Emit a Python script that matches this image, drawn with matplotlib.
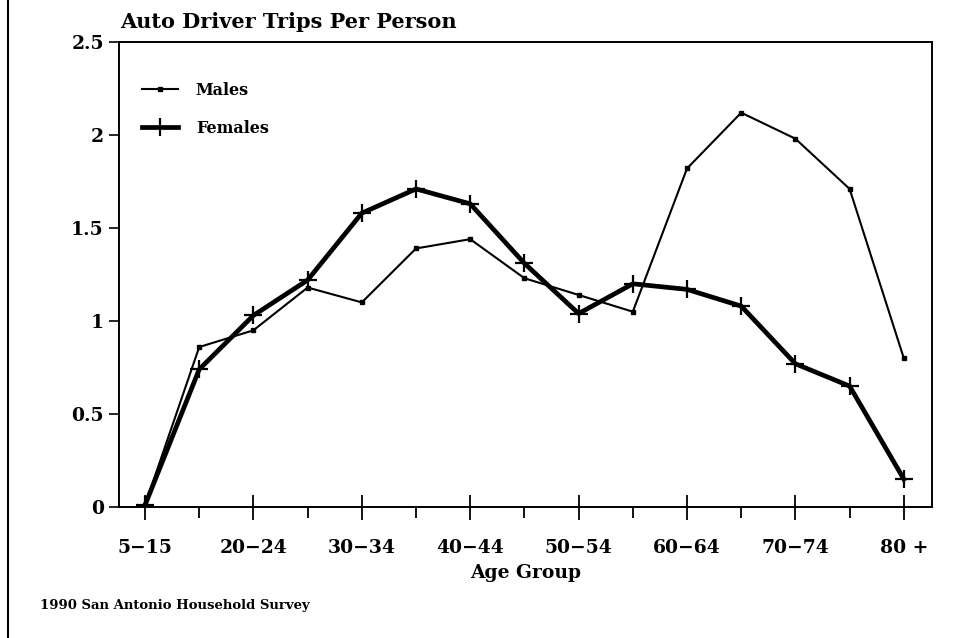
import matplotlib
matplotlib.use("Agg")
import matplotlib.pyplot as plt
from matplotlib.lines import Line2D
from matplotlib.ticker import FixedLocator

age_groups = ["5-15", "16-19", "20-24", "25-29", "30-34", "35-39", "40-44", "45-49",
              "50-54", "55-59", "60-64", "65-69", "70-74", "75-79", "80 +"]
tick_labels = ["5\u221215", "", "20\u221224", "", "30\u221234", "", "40\u221244", "",
               "50\u221254", "", "60\u221264", "", "70\u221274", "", "80 +"]
males = [0.01, 0.86, 0.95, 1.18, 1.10, 1.39, 1.44, 1.23, 1.14, 1.05, 1.82, 2.12, 1.98, 1.71, 0.80]
females = [0.01, 0.74, 1.03, 1.22, 1.58, 1.71, 1.63, 1.31, 1.04, 1.20, 1.17, 1.08, 0.77, 0.65, 0.15]

plt.rcParams['font.family'] = ['DejaVu Serif']
plt.rcParams['font.weight'] = 'bold'

fig = plt.figure(figsize=(9.55, 6.38), dpi=100)
ax = fig.add_axes([119/955, 1 - 507/638, (932-119)/955, (507-42)/638])

x = list(range(len(age_groups)))
ax.plot(x, males, color='black', lw=1.5, marker='s', markersize=3.5, label='Males')
ax.plot(x, females, color='black', lw=3.4, marker='+', markersize=13, markeredgewidth=1.6,
        label='Females')

ax.set_xlim(-0.48, 14.52)
ax.set_ylim(0, 2.5)
ax.set_yticks([0, 0.5, 1, 1.5, 2, 2.5])
ax.set_yticklabels(["0", "0.5", "1", "1.5", "2", "2.5"])
ax.xaxis.set_major_locator(FixedLocator([i for i in x if i % 2 == 0]))
ax.xaxis.set_minor_locator(FixedLocator([i for i in x if i % 2 == 1]))
ax.set_xticklabels([tick_labels[i] for i in x if i % 2 == 0])

ax.tick_params(axis='x', which='major', direction='inout', length=18, width=1.3, pad=14,
               labelsize=13.5)
ax.tick_params(axis='x', which='minor', direction='out', length=8, width=1.3)
ax.tick_params(axis='y', which='major', direction='out', length=7, width=1.2, pad=4,
               labelsize=13.5)
for s in ax.spines.values():
    s.set_linewidth(1.4)

ax.set_xlabel("Age Group", fontsize=13.5, fontweight='bold', labelpad=5)
fig.text(120/955, 1 - 28/638, "Auto Driver Trips Per Person", fontsize=15,
         fontweight='bold', va='baseline', ha='left')

handles = [Line2D([0], [0], color='black', lw=1.5, marker='s', markersize=3),
           Line2D([0], [0], color='black', lw=3.4, marker='+', markersize=13,
                  markeredgewidth=1.6)]
ax.legend(handles, ["Males", "Females"], loc='upper left', bbox_to_anchor=(0.01, 0.945),
          frameon=False, handlelength=2.3, labelspacing=1.3,
          handletextpad=1.1, prop={'weight': 'bold', 'size': 11.5})

fig.text(40/955, 1 - 609/638, "1990 San Antonio Household Survey", fontsize=9.5,
         fontweight='bold', va='baseline', ha='left')

fig.add_artist(Line2D([8/955, 8/955], [0, 1], color='black', lw=1.5,
                      transform=fig.transFigure))

fig.savefig("out.png", dpi=100)
